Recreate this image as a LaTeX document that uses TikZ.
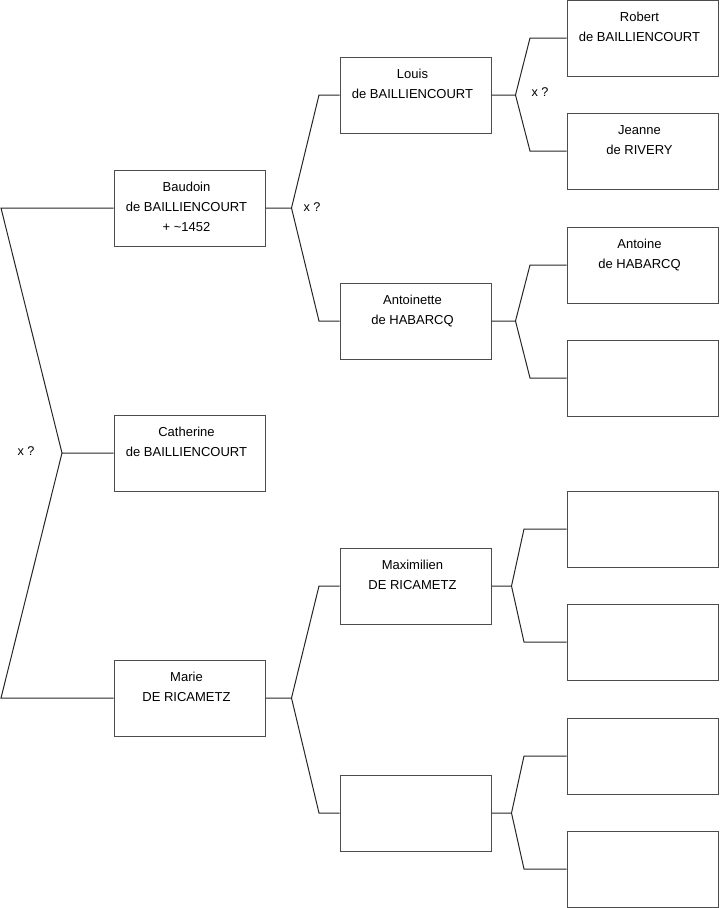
\documentclass[tikz,border=0pt]{standalone}
\usepackage{fontspec}
\setmainfont{Liberation Sans}

\begin{document}
\begin{tikzpicture}[x=0.75pt, y=-0.75pt,
  person/.style={draw=black!70, line width=0.75pt, minimum width=113.25pt, minimum height=57pt, inner sep=0pt},
  who/.style={anchor=north, align=center, inner sep=0pt, yshift=-9.5pt, xshift=-2.25pt, font=\fontsize{9.75pt}{15pt}\selectfont},
  tag/.style={font=\fontsize{9.5pt}{15pt}\selectfont, inner sep=0pt},
  link/.style={draw=black!85, line width=0.75pt}]
  \useasboundingbox (0,0) rectangle (719,908);
  % generation 1
  \node[person, label={[who]north:Baudoin\\de BAILLIENCOURT\\+ \textasciitilde1452}] (baudoin) at (189.5,208) {};
  \node[person, label={[who]north:Catherine\\de BAILLIENCOURT}] (catherine) at (189.5,453) {};
  \node[person, label={[who]north:Marie\\DE RICAMETZ}] (marie) at (189.5,698) {};
  % generation 2
  \node[person, label={[who]north:Louis\\de BAILLIENCOURT}] (louis) at (415.5,95) {};
  \node[person, label={[who]north:Antoinette\\de HABARCQ}] (antoinette) at (415.5,321) {};
  \node[person, label={[who]north:Maximilien\\DE RICAMETZ}] (maximilien) at (415.5,586) {};
  \node[person] (unk2) at (415.5,813) {};
  % generation 3
  \node[person, label={[who]north:Robert\\de BAILLIENCOURT}] (robert) at (642.5,38) {};
  \node[person, label={[who]north:Jeanne\\de RIVERY}] (jeanne) at (642.5,151) {};
  \node[person, label={[who]north:Antoine\\de HABARCQ}] (antoine) at (642.5,265) {};
  \node[person] (unk3a) at (642.5,378) {}; \node[person] (unk3b) at (642.5,529) {};
  \node[person] (unk3c) at (642.5,642) {}; \node[person] (unk3d) at (642.5,756) {};
  \node[person] (unk3e) at (642.5,869) {};
  % siblings
  \coordinate (s1) at (1,208); \coordinate (s2) at (62,453); \coordinate (s3) at (1,698);
  \draw[link] (baudoin.west) -- (s1) -- (s2) -- (catherine.west) (s2) -- (s3) -- (marie.west);
  \node[tag] (x1) at (26,451) {x ?};
  % parents
  \foreach \kid/\dad/\mum/\dx/\cx in {baudoin/louis/antoinette/26/319, marie/maximilien/unk2/26/319,
      louis/robert/jeanne/24/530, antoinette/antoine/unk3a/24/530,
      maximilien/unk3b/unk3c/20/524, unk2/unk3d/unk3e/20/524}{
    \coordinate (c) at (\cx,0);
    \draw[link] (\kid.east) -- ++(\dx,0) coordinate (f) -- (c |- \dad.west) -- (\dad.west);
    \draw[link] (f) -- (c |- \mum.west) -- (\mum.west);
  }
  \node[tag] (x2) at (312,207) {x ?};
  \node[tag] (x3) at (540,92) {x ?};
\end{tikzpicture}
\end{document}
